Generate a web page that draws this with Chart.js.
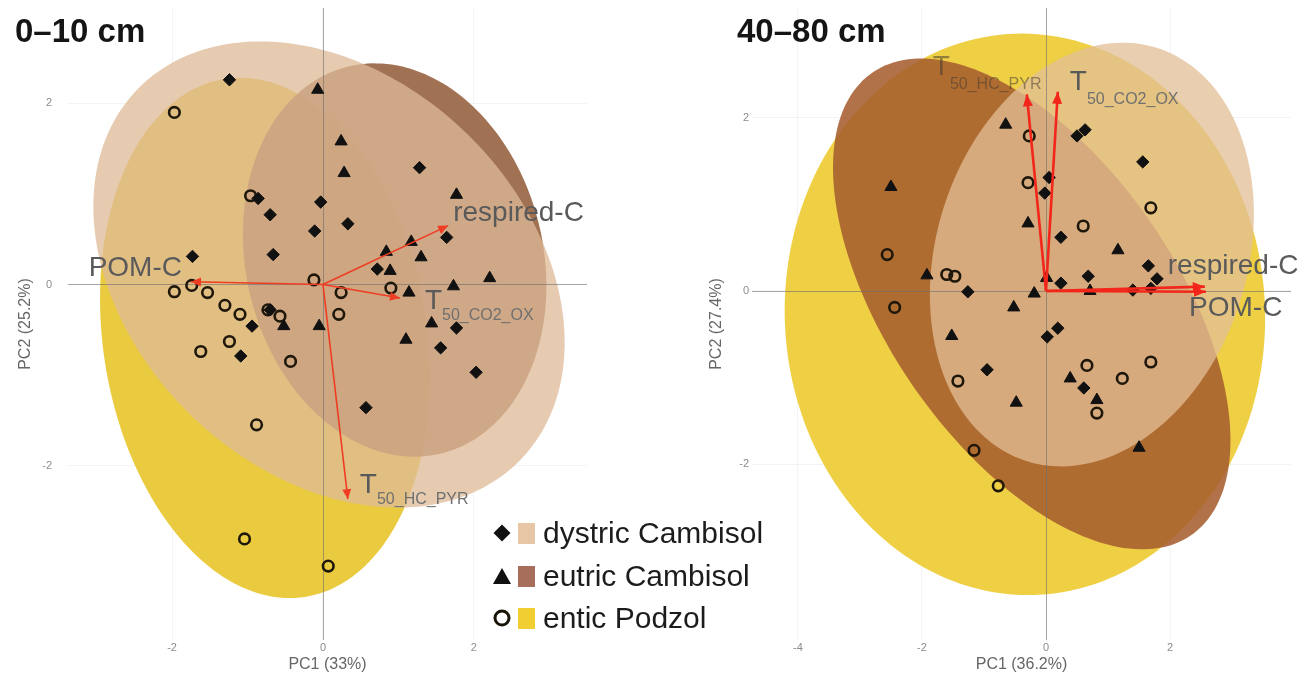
<!DOCTYPE html>
<html><head><meta charset="utf-8">
<script src="https://cdn.jsdelivr.net/npm/chart.js@4.4.1/dist/chart.umd.min.js"></script>
<style>
html,body{margin:0;padding:0;background:#fff}
body{width:1307px;height:683px;overflow:hidden;position:relative;font-family:"Liberation Sans",Arial,sans-serif}
canvas{position:absolute;top:0}
#c1{left:0}
#c2{left:650px}
.ttl{position:absolute;top:14px;font-weight:bold;font-size:33px;line-height:33px;color:#151515;white-space:nowrap}
.lrow{position:absolute;left:492px;height:34px;display:flex;align-items:center;white-space:nowrap}
.lrow svg{display:block}
.sw{display:inline-block;width:17px;height:21px;margin-left:6px;margin-right:8px}
.lt{font-size:30px;line-height:34px;color:#1c1c1c}
</style></head>
<body>
<canvas id="c1" width="650" height="683"></canvas>
<canvas id="c2" width="657" height="683"></canvas>
<div class="ttl" style="left:15px">0–10 cm</div>
<div class="ttl" style="left:737px">40–80 cm</div>
<div id="legend"></div>
<script>
// ---------- categories / legend ----------
const soilGroups = ['dystric Cambisol', 'eutric Cambisol', 'entic Podzol'];
const legendSwatches = ['#e7c6a6', '#a86e5c', '#f1cf33'];

// ---------- axis ticks & titles ----------
const leftXTicks = [-2, 0, 2];
const leftYTicks = [-2, 0, 2];
const rightXTicks = [-4, -2, 0, 2];
const rightYTicks = [-2, 0, 2];
const leftXTitle = 'PC1 (33%)', leftYTitle = 'PC2 (25.2%)';
const rightXTitle = 'PC1 (36.2%)', rightYTitle = 'PC2 (27.4%)';

// ---------- 0–10 cm scores ----------
const left_dystric = [[-1.24,2.26],[1.28,1.29],[-0.86,0.95],[-0.70,0.77],[-0.03,0.91],[0.33,0.67],[-0.11,0.59],[-0.66,0.33],[-1.73,0.31],[1.64,0.52],[0.72,0.17],[-0.70,-0.28],[-0.94,-0.46],[-1.09,-0.79],[1.77,-0.48],[1.56,-0.70],[2.03,-0.97],[0.57,-1.36]];
const left_eutric = [[-0.07,2.15],[0.24,1.58],[0.28,1.23],[1.77,0.99],[1.17,0.47],[0.84,0.36],[1.30,0.30],[0.89,0.15],[2.21,0.07],[1.73,-0.02],[1.14,-0.09],[1.44,-0.43],[1.10,-0.61],[-0.05,-0.46],[-0.52,-0.46]];
const left_entic = [[-1.97,1.90],[-0.96,0.98],[-0.12,0.05],[0.24,-0.09],[0.90,-0.04],[0.21,-0.33],[-1.97,-0.08],[-1.74,-0.01],[-1.53,-0.09],[-1.30,-0.23],[-1.10,-0.33],[-0.73,-0.28],[-0.57,-0.35],[-1.24,-0.63],[-1.62,-0.74],[-0.43,-0.85],[-0.88,-1.55],[-1.04,-2.81],[0.07,-3.11]];
// loadings (arrows)
const left_vars = ['POM-C', 'respired-C', 'T50_CO2_OX', 'T50_HC_PYR'];
const left_varX = [-1.75, 1.66, 1.02, 0.33];
const left_varY = [0.03, 0.65, -0.15, -2.37];
// concentration ellipses: centre, first and second semi-axis vectors (dystric, eutric, entic)
const left_ellCentre = [[0.08, 0.11], [0.95, 0.27], [-0.77, -0.59]];
const left_ellAxis1 = [[2.51, -2.07], [0.60, -2.14], [0.53, -2.86]];
const left_ellAxis2 = [[1.86, 1.53], [1.92, 0.37], [2.12, 0.27]];

// ---------- 40–80 cm scores ----------
const right_dystric = [[0.50,1.79],[0.63,1.86],[1.56,1.49],[0.05,1.31],[-0.02,1.13],[0.24,0.62],[1.65,0.29],[1.79,0.14],[0.68,0.17],[0.24,0.09],[-1.26,-0.01],[1.40,0.01],[1.69,0.03],[0.02,-0.53],[0.19,-0.43],[-0.95,-0.91],[0.61,-1.12]];
const right_eutric = [[-0.65,1.92],[-2.50,1.20],[-0.29,0.78],[1.16,0.47],[-1.92,0.18],[0.01,0.15],[0.71,0.00],[-0.19,-0.03],[-0.52,-0.19],[-1.52,-0.52],[0.39,-1.01],[-0.48,-1.29],[0.82,-1.26],[1.50,-1.81]];
const right_entic = [[-0.27,1.79],[-0.29,1.25],[1.69,0.96],[0.60,0.75],[-2.56,0.42],[-1.60,0.19],[-1.47,0.17],[-2.44,-0.19],[0.66,-0.86],[1.23,-1.01],[1.69,-0.82],[-1.42,-1.04],[0.82,-1.41],[-1.16,-1.84],[-0.77,-2.25]];
const right_vars = ['T50_HC_PYR', 'T50_CO2_OX', 'respired-C', 'POM-C'];
const right_varX = [-0.31, 0.19, 2.56, 2.58];
const right_varY = [2.27, 2.30, 0.05, -0.01];
const right_ellCentre = [[0.74, 0.42], [-0.23, -0.15], [-0.34, -0.27]];
const right_ellAxis1 = [[1.03, 2.39], [2.55, -2.68], [-0.16, 3.24]];
const right_ellAxis2 = [[2.40, -0.52], [1.94, 0.92], [3.87, 0.09]];

// ---------- legend (HTML text) ----------
(function(){
  const shapes = [
    '<svg width="20" height="22"><path d="M10 2.5 L18.5 11 L10 19.5 L1.5 11Z" fill="#111"/></svg>',
    '<svg width="20" height="22"><path d="M10 3 L19 19 L1 19Z" fill="#111"/></svg>',
    '<svg width="20" height="22"><circle cx="10" cy="11" r="7" fill="none" stroke="#1a1408" stroke-width="3"/></svg>'
  ];
  const centres = [533, 576, 618];
  const lg = document.getElementById('legend');
  soilGroups.forEach((g, i) => {
    const r = document.createElement('div');
    r.className = 'lrow';
    r.style.top = (centres[i] - 17) + 'px';
    r.innerHTML = shapes[i] + '<span class="sw" style="background:' + legendSwatches[i] + '"></span><span class="lt">' + g + '</span>';
    lg.appendChild(r);
  });
})();

const toXY = arr => arr.map(p => ({x: p[0], y: p[1]}));

function splitName(n) {
  const m = n.match(/^T(\d.*)$/);
  return m ? {main: 'T', sub: m[1]} : {main: n, sub: ''};
}

function makeBiplotPlugin(cfg) {
  return {
    id: 'biplot',
    beforeDatasetsDraw(chart) {
      const {ctx, chartArea: a, scales: {x, y}} = chart;
      ctx.save();
      cfg.order.forEach(i => {
        const c = cfg.centre[i], A = cfg.axis1[i], B = cfg.axis2[i];
        ctx.beginPath();
        for (let k = 0; k <= 200; k++) {
          const t = k / 200 * Math.PI * 2;
          const vx = c[0] + Math.cos(t) * A[0] + Math.sin(t) * B[0];
          const vy = c[1] + Math.cos(t) * A[1] + Math.sin(t) * B[1];
          const px = x.getPixelForValue(vx), py = y.getPixelForValue(vy);
          if (k === 0) ctx.moveTo(px, py); else ctx.lineTo(px, py);
        }
        ctx.closePath();
        ctx.fillStyle = cfg.fills[i];
        ctx.fill();
      });
      const x0 = Math.round(x.getPixelForValue(0)) + 0.5;
      const y0 = Math.round(y.getPixelForValue(0)) + 0.5;
      ctx.strokeStyle = cfg.zeroColor;
      ctx.lineWidth = 1;
      ctx.beginPath();
      ctx.moveTo(x0, a.top); ctx.lineTo(x0, a.bottom);
      ctx.moveTo(a.left, y0); ctx.lineTo(a.right, y0);
      ctx.stroke();
      ctx.restore();
    },
    afterDatasetsDraw(chart) {
      const {ctx, scales: {x, y}} = chart;
      ctx.save();
      const ox = x.getPixelForValue(0), oy = y.getPixelForValue(0);
      cfg.vars.forEach((name, i) => {
        const tx = x.getPixelForValue(cfg.vx[i]), ty = y.getPixelForValue(cfg.vy[i]);
        const ang = Math.atan2(ty - oy, tx - ox);
        const L = cfg.headLen, W = cfg.headW;
        ctx.fillStyle = cfg.arrowColor;
        ctx.beginPath();
        ctx.moveTo(tx, ty);
        ctx.lineTo(tx - L * Math.cos(ang) + W * Math.sin(ang), ty - L * Math.sin(ang) - W * Math.cos(ang));
        ctx.lineTo(tx - L * Math.cos(ang) - W * Math.sin(ang), ty - L * Math.sin(ang) + W * Math.cos(ang));
        ctx.closePath();
        ctx.fill();
      });
      cfg.vars.forEach((name, i) => {
        const tx = x.getPixelForValue(cfg.vx[i]), ty = y.getPixelForValue(cfg.vy[i]);
        const st = cfg.labelStyle[i];
        const parts = splitName(name);
        const lx = tx + st.dx, ly = ty + st.dy;
        ctx.textBaseline = 'middle';
        ctx.fillStyle = st.color || cfg.labelColor;
        ctx.font = cfg.labelFont;
        if (!parts.sub) {
          ctx.textAlign = st.align || 'left';
          ctx.fillText(parts.main, lx, ly);
        } else {
          ctx.textAlign = 'left';
          ctx.fillText(parts.main, lx, ly);
          const w = ctx.measureText(parts.main).width;
          ctx.font = cfg.subFont;
          ctx.fillStyle = st.subColor || cfg.subColor;
          ctx.fillText(parts.sub, lx + w, ly + cfg.subDy);
        }
      });
      ctx.restore();
    }
  };
}

function makeChart(id, o) {
  const arrowSets = o.vars.map((n, i) => ({
    type: 'line', label: n, data: [{x: 0, y: 0}, {x: o.vx[i], y: o.vy[i]}],
    borderColor: o.arrowColor, borderWidth: o.arrowWidth, pointRadius: 0, fill: false, showLine: true
  }));
  const pointSets = [
    {label: soilGroups[0], data: toXY(o.dystric), pointStyle: 'rectRot', pointRadius: 6.2, backgroundColor: '#111', borderColor: '#111', borderWidth: 1},
    {label: soilGroups[1], data: toXY(o.eutric), pointStyle: 'triangle', pointRadius: 7, backgroundColor: '#111', borderColor: '#111', borderWidth: 1},
    {label: soilGroups[2], data: toXY(o.entic), pointStyle: 'circle', pointRadius: 5.3, backgroundColor: 'rgba(0,0,0,0)', borderColor: '#1e170a', borderWidth: 2.6}
  ];
  return new Chart(document.getElementById(id), {
    type: 'scatter',
    data: {datasets: arrowSets.concat(pointSets)},
    options: {
      responsive: false, animation: false, devicePixelRatio: 1,
      layout: {padding: {left: 0, right: o.padRight, top: 0, bottom: 0}},
      plugins: {legend: {display: false}, tooltip: {enabled: false}},
      scales: {
        x: {
          type: 'linear', min: o.xMin, max: o.xMax,
          afterBuildTicks: s => { s.ticks = o.xTicks.map(v => ({value: v})); },
          afterFit: s => { s.height = o.xAxisH; s.paddingLeft = 0; s.paddingRight = 0; },
          grid: {color: 'rgba(0,0,0,0.045)', drawTicks: false},
          border: {display: false},
          ticks: {color: '#8c8c8c', font: {size: 11, family: 'Liberation Sans'}, padding: 1, maxRotation: 0},
          title: {display: true, text: o.xTitle, color: '#666', font: {size: 16, family: 'Liberation Sans'}, padding: {top: 0, bottom: 9}}
        },
        y: {
          type: 'linear', min: o.yMin, max: o.yMax,
          afterBuildTicks: s => { s.ticks = o.yTicks.map(v => ({value: v})); },
          afterFit: s => { s.width = o.yAxisW; s.paddingTop = 0; s.paddingBottom = 0; },
          grid: {color: 'rgba(0,0,0,0.045)', drawTicks: false},
          border: {display: false},
          ticks: {color: '#8c8c8c', font: {size: 11, family: 'Liberation Sans'}, padding: o.yTickPad},
          title: {display: true, text: o.yTitle, color: '#666', font: {size: 16, family: 'Liberation Sans'}, padding: {top: o.yTitlePad, bottom: 0}}
        }
      }
    },
    plugins: [makeBiplotPlugin(o)]
  });
}

// 0–10 cm
makeChart('c1', {
  dystric: left_dystric, eutric: left_eutric, entic: left_entic,
  vars: left_vars, vx: left_varX, vy: left_varY,
  centre: left_ellCentre, axis1: left_ellAxis1, axis2: left_ellAxis2,
  order: [2, 1, 0],
  fills: ['rgba(222,187,152,0.76)', 'rgba(145,90,56,0.86)', 'rgba(232,199,48,0.93)'],
  zeroColor: 'rgba(110,110,110,0.6)',
  xMin: -3.38, xMax: 3.50, yMin: -3.926, yMax: 3.053,
  xTicks: leftXTicks, yTicks: leftYTicks, xTitle: leftXTitle, yTitle: leftYTitle,
  padRight: 63, xAxisH: 43, yAxisW: 68, yTickPad: 16, yTitlePad: 16,
  arrowColor: '#ee3d22', arrowWidth: 1.6, headLen: 10, headW: 4.5,
  labelFont: '28px "Liberation Sans"', subFont: '16px "Liberation Sans"', subDy: 15,
  labelColor: '#5a5a5a', subColor: '#707070',
  labelStyle: [
    {dx: -9, dy: -13, align: 'right'},
    {dx: 5, dy: -12, align: 'left'},
    {dx: 25, dy: 3},
    {dx: 12, dy: -14}
  ]
});

// 40–80 cm
makeChart('c2', {
  dystric: right_dystric, eutric: right_eutric, entic: right_entic,
  vars: right_vars, vx: right_varX, vy: right_varY,
  centre: right_ellCentre, axis1: right_ellAxis1, axis2: right_ellAxis2,
  order: [2, 1, 0],
  fills: ['rgba(226,190,150,0.76)', 'rgba(166,94,48,0.88)', 'rgba(238,206,58,0.95)'],
  zeroColor: 'rgba(110,110,110,0.6)',
  xMin: -4.74, xMax: 3.95, yMin: -4.03, yMax: 3.267,
  xTicks: rightXTicks, yTicks: rightYTicks, xTitle: rightXTitle, yTitle: rightYTitle,
  padRight: 16, xAxisH: 43, yAxisW: 102, yTickPad: 3, yTitlePad: 57,
  arrowColor: '#f2261a', arrowWidth: 2.6, headLen: 12, headW: 5,
  labelFont: '28px "Liberation Sans"', subFont: '16px "Liberation Sans"', subDy: 17,
  labelColor: '#5a5a5a', subColor: '#707070',
  labelStyle: [
    {dx: -94, dy: -27, color: 'rgba(70,60,50,0.55)', subColor: 'rgba(70,60,50,0.55)'},
    {dx: 12, dy: -9},
    {dx: -37, dy: -20, align: 'left'},
    {dx: -17, dy: 16, align: 'left'}
  ]
});
</script>
</body></html>
